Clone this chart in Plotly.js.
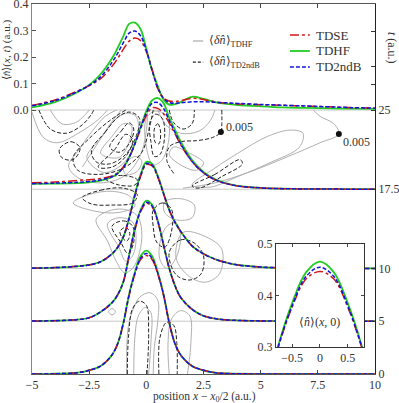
<!DOCTYPE html>
<html>
<head>
<meta charset="utf-8">
<script src="https://cdn.plot.ly/plotly-3.0.1.min.js"></script>
<style>
  html, body { margin: 0; padding: 0; background: #fff; }
  #chart { width: 399px; height: 403px; }
</style>
</head>
<body>
<div id="chart"></div>
<script>
// ---- datos ----
// rejilla x compartida por todas las densidades (a.u.)
const XS = [-5, -4, -3, -2.5, -2, -1.5, -1.25, -1, -0.75, -0.5, -0.25, 0, 0.25, 0.5, 0.75, 1, 1.25, 1.5, 2, 2.5, 3, 3.5, 4, 5, 6, 7, 8, 9, 10];
// instantes dibujados (líneas base)
const TBASE = [0, 5, 10, 17.5, 25];

// <n>(x,t) por método, un array por instante
const TDHF_0  = [0.0003, 0.001, 0.005, 0.014, 0.03, 0.072, 0.115, 0.195, 0.302, 0.385, 0.445, 0.466, 0.445, 0.385, 0.302, 0.195, 0.115, 0.072, 0.03, 0.014, 0.005, 0.002, 0.001, 0.0003, 0, 0, 0, 0, 0];
const TD2_0   = [0.0003, 0.001, 0.005, 0.014, 0.03, 0.072, 0.115, 0.194, 0.300, 0.380, 0.437, 0.455, 0.437, 0.380, 0.300, 0.194, 0.115, 0.072, 0.03, 0.014, 0.005, 0.002, 0.001, 0.0003, 0, 0, 0, 0, 0];
const TDSE_0  = [0.0003, 0.001, 0.005, 0.014, 0.03, 0.072, 0.115, 0.193, 0.298, 0.377, 0.432, 0.447, 0.432, 0.377, 0.298, 0.193, 0.115, 0.072, 0.03, 0.014, 0.005, 0.002, 0.001, 0.0003, 0, 0, 0, 0, 0];

const TDHF_5  = [0.0005, 0.002, 0.006, 0.013, 0.035, 0.07, 0.10, 0.15, 0.25, 0.35, 0.42, 0.455, 0.44, 0.38, 0.29, 0.20, 0.135, 0.09, 0.045, 0.02, 0.01, 0.005, 0.003, 0.001, 0, 0, 0, 0, 0];
const TD2_5   = [0.0005, 0.002, 0.006, 0.013, 0.035, 0.07, 0.10, 0.15, 0.25, 0.348, 0.417, 0.449, 0.435, 0.377, 0.289, 0.20, 0.135, 0.09, 0.045, 0.02, 0.01, 0.005, 0.003, 0.001, 0, 0, 0, 0, 0];
const TDSE_5  = [0.0005, 0.002, 0.006, 0.013, 0.035, 0.07, 0.10, 0.15, 0.249, 0.345, 0.413, 0.445, 0.432, 0.375, 0.288, 0.20, 0.135, 0.09, 0.045, 0.02, 0.01, 0.005, 0.003, 0.001, 0, 0, 0, 0, 0];

const TDHF_10 = [0.001, 0.003, 0.008, 0.013, 0.025, 0.055, 0.08, 0.12, 0.19, 0.28, 0.355, 0.402, 0.395, 0.35, 0.285, 0.222, 0.175, 0.14, 0.085, 0.055, 0.035, 0.022, 0.013, 0.005, 0.002, 0.001, 0, 0, 0];
const TD2_10  = [0.001, 0.003, 0.008, 0.013, 0.025, 0.055, 0.08, 0.12, 0.19, 0.277, 0.35, 0.396, 0.39, 0.346, 0.283, 0.221, 0.175, 0.14, 0.085, 0.055, 0.035, 0.022, 0.013, 0.005, 0.002, 0.001, 0, 0, 0];
const TDSE_10 = [0.001, 0.003, 0.008, 0.013, 0.025, 0.055, 0.08, 0.12, 0.19, 0.275, 0.347, 0.392, 0.387, 0.344, 0.282, 0.22, 0.175, 0.14, 0.085, 0.055, 0.035, 0.022, 0.013, 0.005, 0.002, 0.001, 0, 0, 0];

const TDHF_17 = [0.020, 0.021, 0.023, 0.026, 0.032, 0.046, 0.06, 0.083, 0.12, 0.175, 0.235, 0.295, 0.335, 0.344, 0.325, 0.27, 0.225, 0.18, 0.11, 0.065, 0.038, 0.022, 0.013, 0.005, 0.002, 0.001, 0.001, 0, 0];
const TD2_17  = [0.021, 0.023, 0.026, 0.029, 0.035, 0.047, 0.06, 0.083, 0.12, 0.172, 0.232, 0.287, 0.324, 0.327, 0.305, 0.26, 0.215, 0.172, 0.105, 0.062, 0.036, 0.021, 0.012, 0.005, 0.002, 0.001, 0.001, 0, 0];
const TDSE_17 = [0.024, 0.027, 0.033, 0.036, 0.040, 0.05, 0.062, 0.085, 0.12, 0.17, 0.228, 0.278, 0.307, 0.305, 0.285, 0.25, 0.21, 0.168, 0.104, 0.062, 0.036, 0.021, 0.012, 0.005, 0.002, 0.001, 0.001, 0, 0];

const TDHF_25 = [0.010, 0.030, 0.068, 0.095, 0.135, 0.195, 0.235, 0.28, 0.325, 0.33, 0.305, 0.23, 0.15, 0.09, 0.04, 0.02, 0.022, 0.03, 0.05, 0.042, 0.03, 0.023, 0.019, 0.014, 0.010, 0.008, 0.006, 0.005, 0.004];
const TD2_25  = [0.016, 0.035, 0.07, 0.093, 0.125, 0.18, 0.215, 0.255, 0.29, 0.298, 0.28, 0.225, 0.15, 0.085, 0.045, 0.028, 0.025, 0.027, 0.031, 0.031, 0.029, 0.027, 0.025, 0.021, 0.018, 0.015, 0.012, 0.009, 0.007];
const TDSE_25 = [0.018, 0.038, 0.072, 0.092, 0.118, 0.165, 0.195, 0.23, 0.26, 0.272, 0.262, 0.22, 0.155, 0.08, 0.045, 0.034, 0.032, 0.035, 0.044, 0.04, 0.031, 0.026, 0.023, 0.02, 0.018, 0.015, 0.012, 0.009, 0.007];

// curvas de nivel de <δn> en el plano (x, t)
const DN_TDHF = [
  [[-5, 24.8], [-4.5, 22.4], [-3.9, 21.9], [-2.9, 22.9], [-2.1, 24.1], [-1.7, 25]],
  [[-4.2, 25], [-3.7, 23.7], [-3.1, 23.8], [-2.7, 24.5], [-2.5, 25]],
  [[-1.3, 25], [-1.8, 24.4], [-2.4, 22.9], [-3.0, 21.1], [-3.4, 19.7], [-3.0, 18.6], [-2.0, 18.1], [-1.0, 18.7], [-0.3, 20.5], [0.0, 23.0], [0.05, 25]],
  [[-1.1, 25], [-1.6, 23.6], [-2.2, 21.6], [-2.8, 19.6]],
  [[-2.6, 20.5], [-2.0, 22.3], [-1.4, 24.0], [-0.9, 24.7], [-0.45, 24.4], [-0.35, 23.0], [-0.65, 21.0], [-1.2, 19.6], [-1.9, 19.1], [-2.6, 20.5]],
  [[-2.0, 20.9], [-1.5, 22.5], [-1.0, 23.7], [-0.65, 23.5], [-0.75, 22.0], [-1.2, 20.5], [-2.0, 20.9]],
  [[-1.0, 19.7], [-0.5, 20.6], [-0.2, 20.2], [-0.4, 19.2], [-0.9, 18.9], [-1.0, 19.7]],
  [[0.0, 24.2], [0.4, 24.9], [0.9, 24.4], [1.0, 22.5], [0.7, 20.3], [0.3, 19.8], [0.0, 21.5], [0.0, 24.2]],
  [[-3.2, 16.2], [-2.5, 17.0], [-1.5, 17.3], [-0.7, 16.8], [-0.5, 15.9], [-1.2, 15.3], [-2.2, 15.4], [-3.2, 16.2]],
  [[-2.2, 14.6], [-1.7, 15.4], [-1.0, 15.6], [-0.4, 15.0], [-0.2, 13.5], [-0.3, 11.5], [-0.6, 10.0], [-0.95, 9.6], [-1.3, 10.6], [-1.7, 12.6], [-2.2, 14.6]],
  [[-1.7, 14.2], [-1.2, 14.8], [-0.6, 14.4], [-0.45, 13.0], [-0.6, 11.2], [-0.9, 10.7], [-1.2, 12.0], [-1.7, 14.2]],
  [[0.6, 12.5], [0.9, 14.0], [1.3, 14.3], [1.5, 13.0], [1.3, 11.0], [0.9, 10.0], [0.6, 10.8], [0.6, 12.5]],
  [[0.8, 16.3], [1.5, 16.6], [2.1, 16.0], [2.0, 14.8], [1.3, 14.6], [0.8, 15.3], [0.8, 16.3]],
  [[1.6, 13.4], [2.6, 13.0], [3.3, 11.8], [3.2, 9.5], [2.6, 8.7], [1.9, 9.2], [1.3, 11.0], [1.6, 13.4]],
  [[2.0, 17.9], [3.0, 19.5], [4.0, 20.9], [5.3, 22.5], [6.3, 23.1], [6.85, 22.8], [6.7, 21.5], [5.4, 20.0], [4.0, 18.7], [2.8, 17.7], [2.0, 17.9]],
  [[1.6, 17.6], [3.0, 18.1], [4.6, 19.2], [6.2, 20.6], [7.6, 21.9], [8.42, 22.73], [8.2, 23.7], [7.6, 24.4], [7.3, 25]],
  [[0.5, 25], [0.9, 23.5], [1.5, 22.8], [2.3, 23.0], [2.8, 24.0], [3.0, 25]],
  [[1.2, 21.5], [1.8, 21.0], [2.5, 20.0], [2.2, 19.3], [1.5, 19.8], [1.0, 20.8], [1.2, 21.5]],
  [[-0.86, 0], [-0.8, 4.3], [-0.58, 6.1], [-0.28, 7.3], [0.16, 7.7], [0.5, 7.0], [0.5, 5.0], [0.35, 2.5], [0.3, 0]],
  [[-0.55, 0], [-0.5, 3.5], [-0.35, 5.5], [-0.05, 6.3], [0.2, 5.8], [0.2, 3.0], [0.1, 0]],
  [[1.0, 0], [0.95, 3.0], [1.1, 5.2], [1.5, 6.0], [1.9, 5.5], [1.95, 3.0], [1.8, 0]],
  [[-1.65, 5.9], [-1.5, 6.2], [-1.35, 5.9], [-1.5, 5.6], [-1.65, 5.9]]
];
const DN_TD2 = [
  [[-4.7, 25], [-4.2, 23.2], [-3.5, 22.8], [-2.8, 23.6], [-2.4, 24.6], [-2.3, 25]],
  [[-3.8, 21.3], [-3.3, 22.0], [-2.9, 21.4], [-3.2, 20.3], [-3.7, 20.5], [-3.8, 21.3]],
  [[-0.9, 25], [-1.6, 24.0], [-2.5, 22.3], [-3.2, 20.5], [-3.0, 19.3], [-2.1, 18.9], [-1.0, 19.5], [-0.2, 21.0], [0.1, 23.0], [0.3, 25]],
  [[-2.4, 21.2], [-1.8, 22.9], [-1.2, 24.4], [-0.7, 24.8], [-0.3, 24.2], [-0.45, 22.5], [-0.9, 20.8], [-1.6, 19.9], [-2.2, 20.1], [-2.4, 21.2]],
  [[-1.6, 21.5], [-1.1, 23.0], [-0.75, 23.8], [-0.55, 23.2], [-0.75, 21.8], [-1.2, 21.0], [-1.6, 21.5]],
  [[-2.1, 19.6], [-1.4, 21.2], [-0.9, 22.7], [-0.6, 22.2], [-0.9, 20.6], [-1.5, 19.6], [-2.1, 19.6]],
  [[0.15, 23.8], [0.4, 24.6], [0.7, 24.2], [0.8, 22.5], [0.6, 20.8], [0.35, 20.6], [0.2, 22.0], [0.15, 23.8]],
  [[0.35, 23.2], [0.5, 23.7], [0.62, 23.0], [0.55, 21.8], [0.4, 21.9], [0.35, 23.2]],
  [[1.0, 25], [1.2, 23.8], [1.6, 23.2], [2.0, 23.7], [2.1, 25]],
  [[3.3, 25], [3.3, 23.6], [3.26, 22.92], [2.9, 22.4], [2.2, 22.1], [1.5, 22.0], [1.0, 21.5], [0.9, 20.2], [1.2, 19.0]],
  [[2.0, 17.8], [3.0, 18.9], [4.1, 20.3], [4.2, 19.9], [3.3, 18.7], [2.3, 17.6], [2.0, 17.8]],
  [[-2.8, 16.7], [-2.0, 17.4], [-1.0, 17.6], [-0.4, 17.0], [-0.6, 16.2], [-1.5, 16.0], [-2.4, 16.1], [-2.8, 16.7]],
  [[-1.8, 18.5], [-1.0, 18.8], [-0.4, 18.4], [-0.5, 17.9], [-1.2, 17.9], [-1.8, 18.5]],
  [[-1.5, 14.0], [-1.0, 14.5], [-0.6, 14.0], [-0.55, 12.5], [-0.8, 11.4], [-1.1, 12.4], [-1.5, 14.0]],
  [[-1.15, 13.5], [-0.9, 13.9], [-0.72, 13.3], [-0.85, 12.6], [-1.05, 12.9], [-1.15, 13.5]],
  [[1.0, 11.5], [1.5, 12.7], [2.1, 12.4], [2.5, 11.2], [2.4, 9.5], [1.9, 8.9], [1.3, 9.4], [1.0, 11.5]],
  [[0.3, 15.5], [0.7, 16.2], [1.1, 15.6], [1.1, 13.5], [0.8, 12.0], [0.45, 12.5], [0.3, 14.0], [0.3, 15.5]],
  [[-0.83, 0], [-0.78, 3.5], [-0.6, 6.2], [-0.3, 6.9], [0.0, 6.5], [0.1, 4.0], [0.03, 0]],
  [[0.55, 0], [0.6, 3.5], [0.89, 4.9], [1.2, 4.6], [1.33, 3.0], [1.35, 0]]
];
// puntos marcados con la etiqueta 0.005: [x, t]
const MARK_PTS = [[3.26, 22.92], [8.42, 22.73]];
const MARK_TXT = ['0.005', '0.005'];

// ---- geometría: t en el eje derecho, densidad a escala común ----
const TTOP = 35.04;        // t en el borde superior
const K = 25.09;           // unidades de t por unidad de densidad
const SERIF = "'Liberation Serif', 'Times New Roman', serif";
const RED = '#d01818', GREEN = '#22cc22', BLUE = '#1414d8';
const INK = '#333';

const byTime = [
  { hf: TDHF_0,  d2: TD2_0,  se: TDSE_0,  ax: 'y6' },
  { hf: TDHF_5,  d2: TD2_5,  se: TDSE_5,  ax: 'y5' },
  { hf: TDHF_10, d2: TD2_10, se: TDSE_10, ax: 'y4' },
  { hf: TDHF_17, d2: TD2_17, se: TDSE_17, ax: 'y3' },
  { hf: TDHF_25, d2: TD2_25, se: TDSE_25, ax: 'y2' }
];

function flat(paths) {
  const x = [], y = [];
  paths.forEach(p => { p.forEach(q => { x.push(q[0]); y.push(q[1]); }); x.push(null); y.push(null); });
  return { x, y };
}

const traces = [];
// líneas base grises
TBASE.slice(1).forEach(tb => traces.push({
  x: [XS[0], XS[XS.length - 1]], y: [tb, tb], xaxis: 'x', yaxis: 'y', mode: 'lines',
  line: { color: '#c8c8c8', width: 1 }, hoverinfo: 'skip', showlegend: false
}));
// contornos
const cHF = flat(DN_TDHF), cD2 = flat(DN_TD2);
traces.push({ x: cHF.x, y: cHF.y, xaxis: 'x', yaxis: 'y', mode: 'lines', connectgaps: false,
  line: { color: '#b0b0b0', width: 1, shape: 'spline', smoothing: 1 }, hoverinfo: 'skip', showlegend: false });
traces.push({ x: cD2.x, y: cD2.y, xaxis: 'x', yaxis: 'y', mode: 'lines', connectgaps: false,
  line: { color: '#222222', width: 1, dash: '4px,2px', shape: 'spline', smoothing: 1 }, hoverinfo: 'skip', showlegend: false });
// densidades
byTime.forEach(s => {
  traces.push({ x: XS, y: s.hf, xaxis: 'x', yaxis: s.ax, mode: 'lines', line: { color: GREEN, width: 1.8, shape: 'spline' }, hoverinfo: 'skip', showlegend: false });
  traces.push({ x: XS, y: s.se, xaxis: 'x', yaxis: s.ax, mode: 'lines', line: { color: RED, width: 1.5, dash: 'dashdot', shape: 'spline' }, hoverinfo: 'skip', showlegend: false });
  traces.push({ x: XS, y: s.d2, xaxis: 'x', yaxis: s.ax, mode: 'lines', line: { color: BLUE, width: 1.5, dash: '4px,2px', shape: 'spline' }, hoverinfo: 'skip', showlegend: false });
});
// puntos 0.005
traces.push({ x: MARK_PTS.map(p => p[0]), y: MARK_PTS.map(p => p[1]), xaxis: 'x', yaxis: 'y', mode: 'markers',
  marker: { color: '#111', size: 6 }, hoverinfo: 'skip', showlegend: false });
// inset: t = 0
[[TDHF_0, GREEN, 'solid', 1.8], [TDSE_0, RED, 'dashdot', 1.5], [TD2_0, BLUE, '4px,2px', 1.5]].forEach(c => traces.push({
  x: XS, y: c[0], xaxis: 'x2', yaxis: 'y7', mode: 'lines', line: { color: c[1], width: c[3], dash: c[2], shape: 'spline' },
  hoverinfo: 'skip', showlegend: false
}));

function shiftedAxis(tb) {
  return { overlaying: 'y', anchor: 'x', visible: false, range: [-tb / K, (TTOP - tb) / K], fixedrange: true };
}
const tickFont = { family: SERIF, size: 12, color: INK };
const txt = { family: SERIF, size: 12, color: INK };

const layout = {
  width: 399, height: 403,
  margin: { l: 32, r: 24, t: 4, b: 29 },
  paper_bgcolor: '#fff', plot_bgcolor: '#fff',
  showlegend: false,
  font: { family: SERIF, size: 12, color: INK },
  xaxis: {
    domain: [0, 1], anchor: 'y', range: [-5, 10],
    tickvals: [-5, -2.5, 0, 2.5, 5, 7.5, 10], ticktext: ['−5', '−2.5', '0', '2.5', '5', '7.5', '10'],
    ticks: 'inside', ticklen: 4, tickcolor: '#444', showline: true, linecolor: '#555', linewidth: 1,
    mirror: 'ticks', showgrid: false, zeroline: false, tickfont: tickFont, ticklabeloverflow: 'allow'
  },
  yaxis: {
    domain: [0, 1], anchor: 'x', side: 'right', range: [0, TTOP],
    tickvals: [0, 5, 10, 17.5, 25, 27.4, 29.1, 32.4], ticktext: ['0', '5', '10', '17.5', '25', ' ', ' ', ' '],
    ticks: 'inside', ticklen: 4, tickcolor: '#333', showline: true, linecolor: '#222', linewidth: 1,
    showgrid: false, zeroline: false, tickfont: tickFont, ticklabeloverflow: 'allow'
  },
  yaxis2: {
    overlaying: 'y', anchor: 'x', side: 'left', range: [-25 / K, (TTOP - 25) / K],
    tickvals: [0, 0.1, 0.2, 0.3, 0.4], ticktext: ['0.0', '0.1', '0.2', '0.3', '0.4'],
    ticks: 'inside', ticklen: 4, tickcolor: '#555', showline: true, linecolor: '#888', linewidth: 1,
    showgrid: false, zeroline: false, tickfont: tickFont, ticklabeloverflow: 'allow'
  },
  yaxis3: shiftedAxis(17.5),
  yaxis4: shiftedAxis(10),
  yaxis5: shiftedAxis(5),
  yaxis6: shiftedAxis(0),
  xaxis2: {
    domain: [0.711, 0.968], anchor: 'y7', range: [-0.79, 0.79],
    tickvals: [-0.5, 0, 0.5], ticktext: ['−0.5', '0', '0.5'],
    ticks: 'inside', ticklen: 3, tickcolor: '#444', showline: true, linecolor: '#333', mirror: 'ticks',
    showgrid: false, zeroline: false, tickfont: tickFont
  },
  yaxis7: {
    domain: [0.073, 0.351], anchor: 'x2', range: [0.3, 0.5],
    tickvals: [0.3, 0.4, 0.5], ticktext: ['0.3', '0.4', '0.5'],
    ticks: 'inside', ticklen: 3, tickcolor: '#444', showline: true, linecolor: '#333', mirror: 'ticks',
    showgrid: false, zeroline: false, tickfont: tickFont
  },
  shapes: [
    { type: 'line', xref: 'paper', yref: 'paper', x0: 0.469, x1: 0.499, y0: 0.900, y1: 0.900, line: { color: '#aaaaaa', width: 1.2 } },
    { type: 'line', xref: 'paper', yref: 'paper', x0: 0.469, x1: 0.499, y0: 0.843, y1: 0.843, line: { color: '#222', width: 1.2, dash: '3px,2px' } },
    { type: 'line', xref: 'paper', yref: 'paper', x0: 0.752, x1: 0.810, y0: 0.916, y1: 0.916, line: { color: RED, width: 1.5, dash: 'dashdot' } },
    { type: 'line', xref: 'paper', yref: 'paper', x0: 0.752, x1: 0.810, y0: 0.873, y1: 0.873, line: { color: GREEN, width: 1.8 } },
    { type: 'line', xref: 'paper', yref: 'paper', x0: 0.752, x1: 0.810, y0: 0.830, y1: 0.830, line: { color: BLUE, width: 1.5, dash: '4px,2px' } }
  ],
  annotations: [
    { xref: 'paper', yref: 'paper', x: -0.072, y: 0.876, xanchor: 'center', yanchor: 'middle', text: '⟨<i>n̂</i>⟩(<i>x</i>, <i>t</i>) (a.u.)', textangle: -90, showarrow: false, font: { family: SERIF, size: 11, color: INK } },
    { xref: 'paper', yref: 'paper', x: 1.05, y: 0.881, xanchor: 'center', yanchor: 'middle', text: '<i>t</i> (a.u.)', textangle: 90, showarrow: false, font: txt },
    { xref: 'paper', yref: 'paper', x: 0.504, y: -0.063, yanchor: 'middle', text: 'position <i>x</i> − <i>x</i><sub>0</sub>/2 (a.u.)', showarrow: false, font: { family: SERIF, size: 11.5, color: INK } },
    { xref: 'paper', yref: 'paper', x: 0.510, y: 0.900, xanchor: 'left', yanchor: 'middle', text: '⟨<i>δn̂</i>⟩<sub>TDHF</sub>', showarrow: false, font: txt },
    { xref: 'paper', yref: 'paper', x: 0.510, y: 0.843, xanchor: 'left', yanchor: 'middle', text: '⟨<i>δn̂</i>⟩<sub>TD2ndB</sub>', showarrow: false, font: txt },
    { xref: 'paper', yref: 'paper', x: 0.822, y: 0.916, xanchor: 'left', yanchor: 'middle', text: 'TDSE', showarrow: false, font: { family: SERIF, size: 13, color: INK } },
    { xref: 'paper', yref: 'paper', x: 0.822, y: 0.873, xanchor: 'left', yanchor: 'middle', text: 'TDHF', showarrow: false, font: { family: SERIF, size: 13, color: INK } },
    { xref: 'paper', yref: 'paper', x: 0.822, y: 0.830, xanchor: 'left', yanchor: 'middle', text: 'TD2ndB', showarrow: false, font: { family: SERIF, size: 13, color: INK } },
    { xref: 'x', yref: 'y', x: MARK_PTS[0][0] + 0.15, y: MARK_PTS[0][1] + 0.45, xanchor: 'left', yanchor: 'middle', text: MARK_TXT[0], showarrow: false, font: txt },
    { xref: 'x', yref: 'y', x: MARK_PTS[1][0] + 0.1, y: MARK_PTS[1][1] - 0.75, xanchor: 'left', yanchor: 'middle', text: MARK_TXT[1], showarrow: false, font: txt },
    { xref: 'x2', yref: 'y7', x: 0, y: 0.349, yanchor: 'middle', text: '⟨<i>n̂</i>⟩(<i>x</i>, 0)', showarrow: false, font: txt }
  ]
};

Plotly.newPlot('chart', traces, layout, { displayModeBar: false, staticPlot: true });
</script>
</body>
</html>
